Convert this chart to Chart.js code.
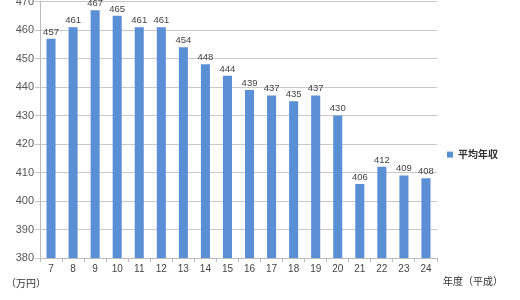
<!DOCTYPE html>
<html lang="ja">
<head>
  <meta charset="UTF-8">
  <title>平均年収</title>
</head>
<style>
  body{ margin:0; background:#fff; overflow:hidden; }
  .box{ position:absolute; left:0; top:-6px; width:520px; height:310px; }
</style>
<body>
<div class="box">
  <canvas id="barChart"></canvas>
</div>

<script src="https://cdn.jsdelivr.net/npm/chart.js"></script>

<script>
  // 平成 年度
  const years = ['7','8','9','10','11','12','13','14','15','16','17','18','19','20','21','22','23','24'];
  // 平均年収（万円）
  const income = [457, 461, 467, 465, 461, 461, 454, 448, 444, 439, 437, 435, 437, 430, 406, 412, 409, 408];
  const yTicks = [380, 390, 400, 410, 420, 430, 440, 450, 460, 470];

  const barColor = '#5a8fd5';
  const jpFont = '"Noto Sans CJK JP", "Noto Sans", sans-serif';
  const numFont = '"Liberation Sans", Arial, sans-serif';

  // values above bars + unit texts + legend
  const extras = {
    id: 'extras',
    afterDatasetsDraw(chart) {
      const ctx = chart.ctx;
      const meta = chart.getDatasetMeta(0);
      ctx.save();
      ctx.fillStyle = '#444';
      ctx.font = '9.5px ' + numFont;
      ctx.textAlign = 'center';
      ctx.textBaseline = 'bottom';
      meta.data.forEach((bar, i) => {
        ctx.fillText(income[i], bar.x, bar.y - 2);
      });

      const area = chart.chartArea;
      ctx.font = '10px ' + jpFont;
      ctx.fillStyle = '#333';
      ctx.textAlign = 'left';
      ctx.textBaseline = 'middle';
      ctx.fillText('（万円）', 6, area.bottom + 25);
      ctx.fillText('年度（平成）', area.right + 6, area.bottom + 23);

      // legend
      ctx.fillStyle = barColor;
      ctx.fillRect(area.right + 10, area.top + 150, 6, 6);
      ctx.fillStyle = '#333';
      ctx.font = 'bold 10px ' + jpFont;
      ctx.fillText('平均年収', area.right + 21, area.top + 153);
      ctx.restore();
    }
  };

  new Chart(document.getElementById('barChart').getContext('2d'), {
    type: 'bar',
    data: {
      labels: years,
      datasets: [{
        label: '平均年収',
        data: income,
        backgroundColor: barColor,
        borderWidth: 0,
        barPercentage: 0.41,
        categoryPercentage: 1.0
      }]
    },
    options: {
      responsive: true,
      maintainAspectRatio: false,
      animation: false,
      layout: { padding: { left: 0, right: 83, top: 0, bottom: 0 } },
      plugins: {
        legend: { display: false },
        tooltip: { enabled: false }
      },
      scales: {
        x: {
          grid: { display: true, drawOnChartArea: false, drawTicks: true, tickLength: 4, color: '#bbb', offset: true },
          border: { color: '#bbb' },
          ticks: { color: '#444', font: { size: 10, family: numFont }, padding: 1, maxRotation: 0 },
          afterFit(s) { s.height = 46; }
        },
        y: {
          min: 380,
          max: 470,
          afterBuildTicks(s) { s.ticks = yTicks.map(v => ({ value: v })); },
          grid: { color: '#c8c8c8', tickLength: 5 },
          border: { color: '#bbb' },
          ticks: { color: '#555', font: { size: 11, family: numFont }, padding: 1 },
          afterFit(s) { s.width = 40; }
        }
      }
    },
    plugins: [extras]
  });
</script>
</body>
</html>
